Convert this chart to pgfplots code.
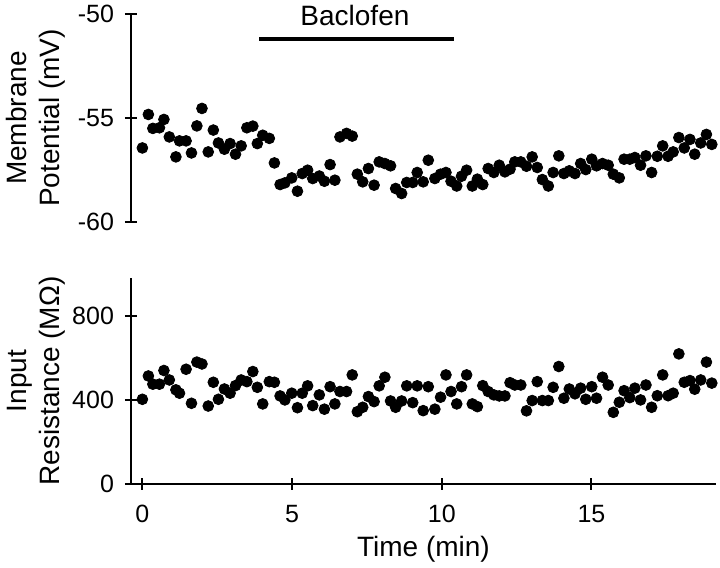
\documentclass[border=0pt]{standalone}
\usepackage{pgfplots}
\pgfplotsset{compat=1.18}
\usepackage{pgfplotstable}
\usepackage{fontspec}
\setmainfont{Liberation Sans}

\pgfplotstableread{
t vm rin
0.00 -56.44 403
0.20 -54.83 514
0.35 -55.50 475
0.57 -55.47 475
0.72 -55.07 540
0.90 -55.91 495
1.12 -56.87 448
1.24 -56.10 432
1.46 -56.10 546
1.64 -56.68 384
1.82 -55.38 580
1.99 -54.54 571
2.20 -56.63 371
2.37 -55.58 484
2.54 -56.20 403
2.74 -56.50 452
2.93 -56.23 432
3.11 -56.74 468
3.30 -56.34 495
3.49 -55.47 487
3.69 -55.39 535
3.84 -56.23 460
4.02 -55.83 381
4.24 -55.98 487
4.41 -57.16 484
4.60 -58.20 419
4.76 -58.12 400
4.99 -57.88 432
5.18 -58.52 363
5.34 -57.67 432
5.52 -57.51 467
5.69 -57.91 373
5.91 -57.79 424
6.08 -58.04 356
6.27 -57.24 463
6.43 -57.99 381
6.60 -55.91 440
6.82 -55.74 440
7.01 -55.87 519
7.18 -57.70 344
7.36 -58.07 365
7.55 -57.43 416
7.74 -58.23 392
7.91 -57.11 467
8.10 -57.19 508
8.29 -57.30 395
8.46 -58.39 365
8.66 -58.63 395
8.83 -58.10 467
9.03 -58.10 387
9.18 -57.62 467
9.38 -58.07 349
9.55 -57.03 463
9.77 -57.91 356
9.96 -57.70 413
10.14 -57.62 519
10.31 -58.04 440
10.50 -58.27 381
10.66 -57.80 463
10.83 -57.51 519
11.02 -58.27 381
11.19 -57.94 368
11.37 -58.20 468
11.55 -57.43 440
11.74 -57.62 424
11.92 -57.27 419
12.11 -57.59 419
12.28 -57.46 482
12.44 -57.11 471
12.64 -57.11 471
12.83 -57.32 348
13.02 -56.87 397
13.19 -57.38 487
13.36 -57.96 397
13.56 -58.27 397
13.72 -57.62 460
13.91 -56.82 559
14.08 -57.67 408
14.26 -57.54 452
14.45 -57.67 429
14.64 -57.19 456
14.81 -57.48 403
15.01 -56.98 463
15.17 -57.30 408
15.37 -57.19 508
15.56 -57.27 471
15.73 -57.70 341
15.93 -57.88 389
16.09 -56.98 444
16.28 -56.98 411
16.45 -56.90 456
16.64 -57.27 400
16.82 -56.82 471
17.01 -57.62 365
17.20 -56.84 420
17.38 -56.34 519
17.56 -56.84 420
17.73 -56.63 432
17.92 -55.94 619
18.10 -56.44 484
18.29 -56.03 492
18.45 -56.74 451
18.65 -56.20 495
18.84 -55.79 580
19.02 -56.27 480
}\data

\pgfplotsset{
  panel/.style={
    scale only axis,
    width=292.5pt,
    xmin=-0.38, xmax=19.16,
    axis line style={line width=1pt,-},
    tick style={line width=1pt,black},
    tick align=outside,
    major tick length=6pt,
    tick label style={font=\fontsize{12.5}{14}\selectfont},
    yticklabel style={xshift=-2pt},
    xticklabel style={yshift=-4pt},
    label style={font=\fontsize{14}{16.5}\selectfont},
    /pgf/number format/assume math mode=true,
    clip=false,
  }
}

\begin{document}
\begin{tikzpicture}
\useasboundingbox (0pt,0pt) rectangle (360pt,284pt);

\begin{axis}[panel,
  at={(65.5pt,173pt)}, anchor=south west,
  height=104pt,
  ymin=-60, ymax=-50,
  ytick={-60,-55,-50},
  axis y line=left, axis x line=none,
  axis line style={-},
  ylabel={Membrane\\Potential (mV)},
  ylabel style={align=center, at={(axis description cs:-0.162,0.5)}, anchor=center},
]
\addplot[only marks, mark=*, mark size=2.7pt, black] table[x=t,y=vm]{\data};
\addplot[black, line width=1.6pt, no marks] coordinates {(3.90,-51.2) (10.41,-51.2)};
\node[font=\fontsize{14}{16.5}\selectfont] at (axis cs:7.1,-50.05) {Baclofen};
\end{axis}

\begin{axis}[panel,
  at={(65.5pt,42pt)}, anchor=south west,
  height=103pt,
  ymin=0, ymax=980,
  ytick={0,400,800},
  xtick={0,5,10,15},
  axis y line=left, axis x line=bottom,
  axis line style={-},
  xlabel={Time (min)},
  ylabel={Input\\Resistance (MΩ)},
  ylabel style={align=center, at={(axis description cs:-0.162,0.5)}, anchor=center},
]
\addplot[only marks, mark=*, mark size=2.7pt, black] table[x=t,y=rin]{\data};
\end{axis}
\end{tikzpicture}
\end{document}
